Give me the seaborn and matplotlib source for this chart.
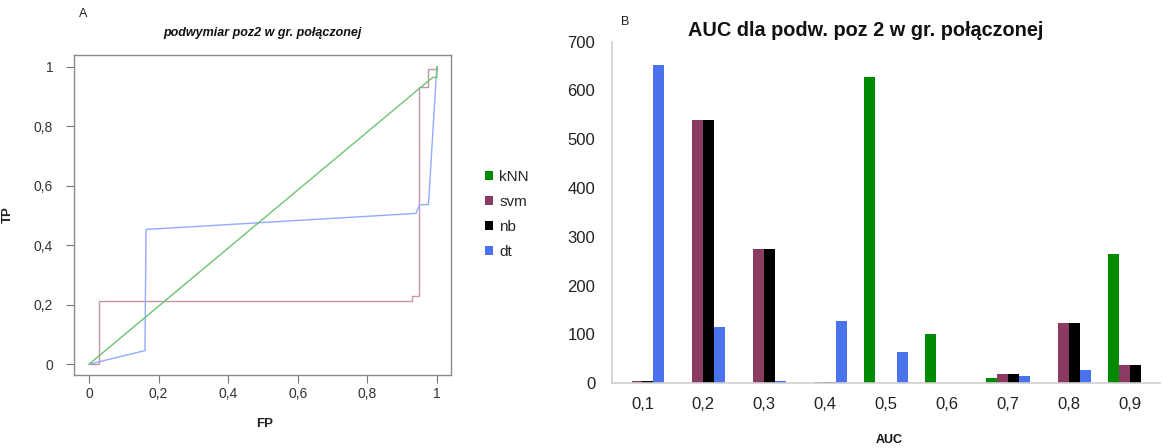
import numpy as np
import pandas as pd
import matplotlib
matplotlib.use("Agg")
import matplotlib.pyplot as plt
import seaborn as sns
from matplotlib.patches import Patch

sns.set_theme(style="white")
plt.rcParams["font.family"] = ["Liberation Sans", "DejaVu Sans"]

# ROC curves (panel A)
knn_fp = [0.0, 0.988, 1.0, 1.0]
knn_tp = [0.0, 0.964, 0.964, 1.0]
svm_fp = [0.0, 0.03, 0.03, 0.928, 0.928, 0.95, 0.95, 0.974, 0.974, 1.0, 1.0]
svm_tp = [0.0, 0.0, 0.214, 0.214, 0.23, 0.23, 0.932, 0.932, 0.991, 0.991, 1.0]
dt_fp = [0.0, 0.161, 0.164, 0.940, 0.950, 0.976, 1.0]
dt_tp = [0.0, 0.046, 0.453, 0.507, 0.536, 0.537, 1.0]

# AUC histogram (panel B)
auc_bins = ["0,1", "0,2", "0,3", "0,4", "0,5", "0,6", "0,7", "0,8", "0,9"]
knn_counts = [0, 0, 0, 1, 627, 100, 10, 0, 265]
svm_counts = [5, 540, 275, 3, 0, 0, 18, 124, 38]
nb_counts = [5, 540, 275, 3, 0, 0, 18, 124, 38]
dt_counts = [652, 114, 5, 128, 63, 0, 15, 26, 0]

methods = ["kNN", "svm", "nb", "dt"]
bar_colors = {"kNN": "#008a00", "svm": "#8b3a62", "nb": "#000000", "dt": "#4a72ec"}
line_colors = {"svm": "#c495ac", "dt": "#93abff", "kNN": "#6cc46c"}

fig = plt.figure(figsize=(11.62, 4.48), dpi=100)

# ---------- Panel A ----------
axA = fig.add_axes([0.0637, 0.163, 0.3245, 0.714])
roc = pd.concat([
    pd.DataFrame({"FP": svm_fp, "TP": svm_tp, "model": "svm"}),
    pd.DataFrame({"FP": dt_fp, "TP": dt_tp, "model": "dt"}),
    pd.DataFrame({"FP": knn_fp, "TP": knn_tp, "model": "kNN"}),
], ignore_index=True)
for name in ["svm", "dt", "kNN"]:
    sub = roc[roc["model"] == name]
    sns.lineplot(data=sub, x="FP", y="TP", sort=False, estimator=None,
                 color=line_colors[name], linewidth=1.0, ax=axA, legend=False)

axA.set_xlim(-0.043, 1.041)
axA.set_ylim(-0.036, 1.039)
ticks = [0, 0.2, 0.4, 0.6, 0.8, 1.0]
tick_labels = ["0", "0,2", "0,4", "0,6", "0,8", "1"]
axA.set_xticks(ticks)
axA.set_xticklabels(tick_labels)
axA.set_yticks(ticks)
axA.set_yticklabels(tick_labels)
axA.tick_params(axis="both", direction="out", length=6, width=0.8, color="#777777",
                labelsize=10, labelcolor="#333333", left=True, bottom=True)
axA.tick_params(axis="x", pad=3)
axA.tick_params(axis="y", pad=9)
for s in axA.spines.values():
    s.set_color("#8c8c8c")
    s.set_linewidth(1.0)
axA.set_xlabel("FP", fontsize=9.5, fontweight="bold", color="#222222")
axA.xaxis.set_label_coords(0.505, -0.135)
axA.set_ylabel("TP", fontsize=9.5, fontweight="bold", color="#222222")
axA.yaxis.set_label_coords(-0.16, 0.5)
axA.set_title("podwymiar poz2 w gr. połączonej", fontsize=9, fontweight="bold",
              fontstyle="italic", color="#111111", pad=14)
fig.text(0.068, 0.963, "A", fontsize=9, color="#222222")

# ---------- Panel B ----------
axB = fig.add_axes([0.5267, 0.145, 0.4716, 0.762])
bars = pd.DataFrame({
    "AUC": auc_bins * 4,
    "count": knn_counts + svm_counts + nb_counts + dt_counts,
    "method": sum([[m] * len(auc_bins) for m in methods], []),
})
sns.barplot(data=bars, x="AUC", y="count", hue="method", hue_order=methods,
            palette=bar_colors, width=0.72, gap=0, saturation=1, ax=axB,
            legend=False, edgecolor="none", linewidth=0, errorbar=None)
axB.set_xlim(-0.5, 8.5)
axB.set_ylim(0, 700)
axB.set_yticks(range(0, 701, 100))
axB.tick_params(axis="both", length=0, labelsize=12, labelcolor="#222222")
axB.tick_params(axis="x", pad=10)
axB.tick_params(axis="y", pad=12)
for side in ["top", "right"]:
    axB.spines[side].set_visible(False)
for side in ["left", "bottom"]:
    axB.spines[side].set_color("#cfcfcf")
    axB.spines[side].set_linewidth(1.2)
axB.set_xlabel("AUC", fontsize=9, fontweight="bold", color="#111111")
axB.xaxis.set_label_coords(0.505, -0.15)
axB.set_ylabel("")
axB.set_title("AUC dla podw. poz 2 w gr. połączonej", fontsize=14.3, fontweight="bold",
              color="#111111", pad=4, x=0.462)
fig.text(0.534, 0.945, "B", fontsize=9, color="#222222")

# shared legend between the panels
handles = [Patch(facecolor=bar_colors[m], edgecolor="none") for m in methods]
fig.legend(handles, methods, loc="upper left", bbox_to_anchor=(0.412, 0.635),
           frameon=False, fontsize=11, handlelength=0.55, handleheight=0.55,
           handletextpad=0.4, labelspacing=0.72, borderaxespad=0)

fig.savefig("out.png", dpi=100)
